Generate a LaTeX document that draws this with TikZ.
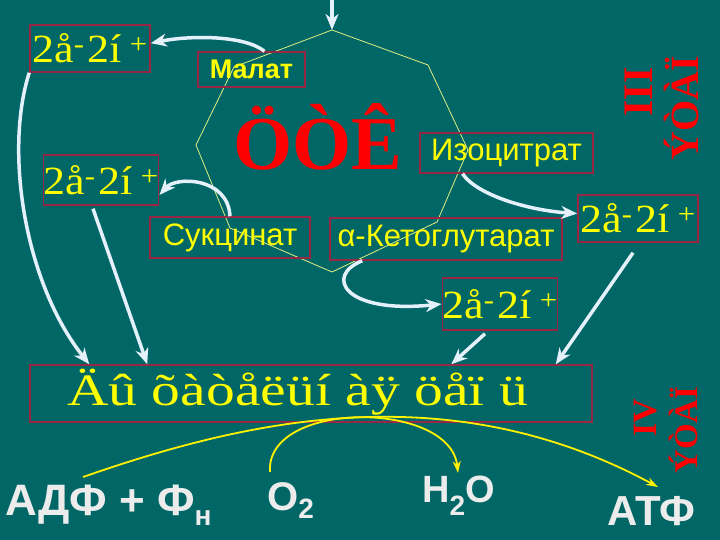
\documentclass[tikz,border=0pt]{standalone}
\usepackage{fontspec}
\setmainfont{Liberation Serif}
\newfontfamily\arialfont{Liberation Sans}
\newfontfamily\pairfont[FakeStretch=1.1]{Liberation Serif}
\newfontfamily\chainfont[FakeStretch=1.28]{Liberation Serif}
\usetikzlibrary{arrows.meta}

\definecolor{bgteal}{RGB}{0,102,102}
\definecolor{boxred}{RGB}{150,40,70}
\definecolor{arrwhite}{RGB}{228,240,250}
\definecolor{txtyellow}{RGB}{255,255,0}
\definecolor{txtwhite}{RGB}{236,236,236}
\definecolor{ringyellow}{RGB}{225,240,130}

\newcommand{\fsz}[1]{\fontsize{#1bp}{#1bp}\selectfont}
\newcommand{\epair}{2å\textsuperscript{-}\hspace{3bp}2í\hspace{8bp}\textsuperscript{+}}

\begin{document}
\begin{tikzpicture}[x=1bp,y=-1bp,
    ebox/.style={draw=boxred, line width=1.5bp, inner sep=0pt, text=txtyellow, font=\pairfont\fsz{40}},
    lbox/.style={draw=boxred, line width=1.5bp, inner sep=0pt, text=txtyellow, font=\arialfont\fsz{31}},
    etap/.style={text=red, font=\bfseries\fsz{#1}, rotate=90, inner sep=0pt},
    bigtxt/.style={text=txtwhite, font=\arialfont\bfseries\fsz{#1}, anchor=base west, inner sep=0pt},
    warrow/.style={draw=arrwhite, line width=3.5bp, -{Stealth[length=16bp,width=13bp,inset=5bp]}},
    yarrow/.style={draw=yellow, line width=1.8bp, -{Stealth[length=12bp,width=8bp]}}]

    \fill[bgteal] (0,0) rectangle (720,540);
    \useasboundingbox (0,0) rectangle (720,540);

    % Krebs ring
    \coordinate (v1) at (332,30);
    \coordinate (v2) at (428,65);
    \coordinate (v3) at (468,150);
    \coordinate (v4) at (437,222);
    \coordinate (v5) at (332,272);
    \coordinate (v6) at (230,228);
    \coordinate (v7) at (196,145);
    \coordinate (v8) at (234,67);
    \draw[ringyellow, line width=0.8bp] (v1) -- (v2) -- (v3) -- (v4) -- (v5) -- (v6) -- (v7) -- (v8) -- cycle;

    \node[text=red, font=\bfseries\fsz{76}, anchor=base west, inner sep=0pt] (tca) at (233,170) {ÖÒÊ};

    \node[lbox, font=\arialfont\bfseries\fsz{27}, minimum width=107bp, minimum height=35bp] (malat) at (251.5,69.5) {Малат};
    \node[lbox, minimum width=173bp, minimum height=40bp] (izo) at (506.5,153) {Изоцитрат};
    \node[lbox, minimum width=160bp, minimum height=41bp] (sukc) at (230,237.5) {Сукцинат};
    \node[lbox, minimum width=232bp, minimum height=42bp] (keto) at (446,239) {α-Кетоглутарат};

    \node[ebox, minimum width=120bp, minimum height=47bp] (e1) at (90,48.5) {\epair};
    \node[ebox, minimum width=108bp, minimum height=50bp] (e2) at (101,180) {\epair};
    \node[ebox, minimum width=120bp, minimum height=47bp] (e3) at (638,218.5) {\epair};
    \node[ebox, minimum width=114bp, minimum height=52bp] (e4) at (500,304) {\epair};

    \node[draw=boxred, line width=1.5bp, minimum width=562bp, minimum height=57bp] (chain) at (311,393.5) {};
    \node[text=txtyellow, font=\chainfont\fsz{45}, anchor=base west, inner sep=0pt] (chaintxt) at (67,405) {Äû õàòåëüí àÿ öåï ü};

    \node[etap=40] (etap3) at (682,108) {ÝÒÀÏ};
    \node[etap=42] (rom3) at (639,92) {III};
    \node[etap=33] (etap4) at (683,430) {ÝÒÀÏ};
    \node[etap=34] (rom4) at (646,418) {IV};

    \node[bigtxt=44] (adf) at (5,515) {АДФ + Ф\raisebox{-10bp}{\fsz{28}н}};
    \node[bigtxt=40] (o2) at (267,510) {O\raisebox{-8bp}{\fsz{28}2}};
    \node[bigtxt=38] (h2o) at (422,502) {H\raisebox{-13bp}{\fsz{28}2}O};
    \node[bigtxt=42] (atf) at (607,525) {АТФ};

    % white arrows
    \coordinate (topin) at (332,0);
    \draw[warrow] (topin) -- (v1);
    \draw[warrow] ([xshift=13bp]malat.north) .. controls +(-20,-16) and +(40,-8) .. (e1.5);
    \draw[warrow] (e1.south west) .. controls +(-25,78) and +(-65,-82) .. ([xshift=60bp]chain.north west);
    \draw[warrow] (sukc.north) .. controls +(-2,-39) and +(17,-19) .. ([yshift=-15bp]e2.east);
    \draw[warrow] ([xshift=-8bp,yshift=-3bp]e2.south) -- ([xshift=118bp]chain.north west);
    \draw[warrow] ([xshift=-44bp]izo.south) .. controls +(15,22) and +(-47,-3) .. ([yshift=5bp]e3.west);
    \draw[warrow] ([xshift=33bp]keto.south west) .. controls +(-38,15) and +(-98,10) .. (e4.west);
    \draw[warrow] ([xshift=-15bp,yshift=-3bp]e4.south) -- ([xshift=422bp]chain.north west);
    \draw[warrow] ([xshift=-5bp,yshift=-10bp]e3.south) -- ([xshift=-37bp]chain.north east);

    % yellow arrows
    \draw[yarrow] ([shift={(78,-38)}]adf.base west) .. controls +(158,-55) and +(-213,-115) .. ([shift={(51,-38)}]atf.base west);
    \draw[yarrow] ([shift={(3,-38)}]o2.base west) .. controls +(-5,-72) and +(-8,-73) .. ([shift={(36,-29)}]h2o.base west);
\end{tikzpicture}
\end{document}
